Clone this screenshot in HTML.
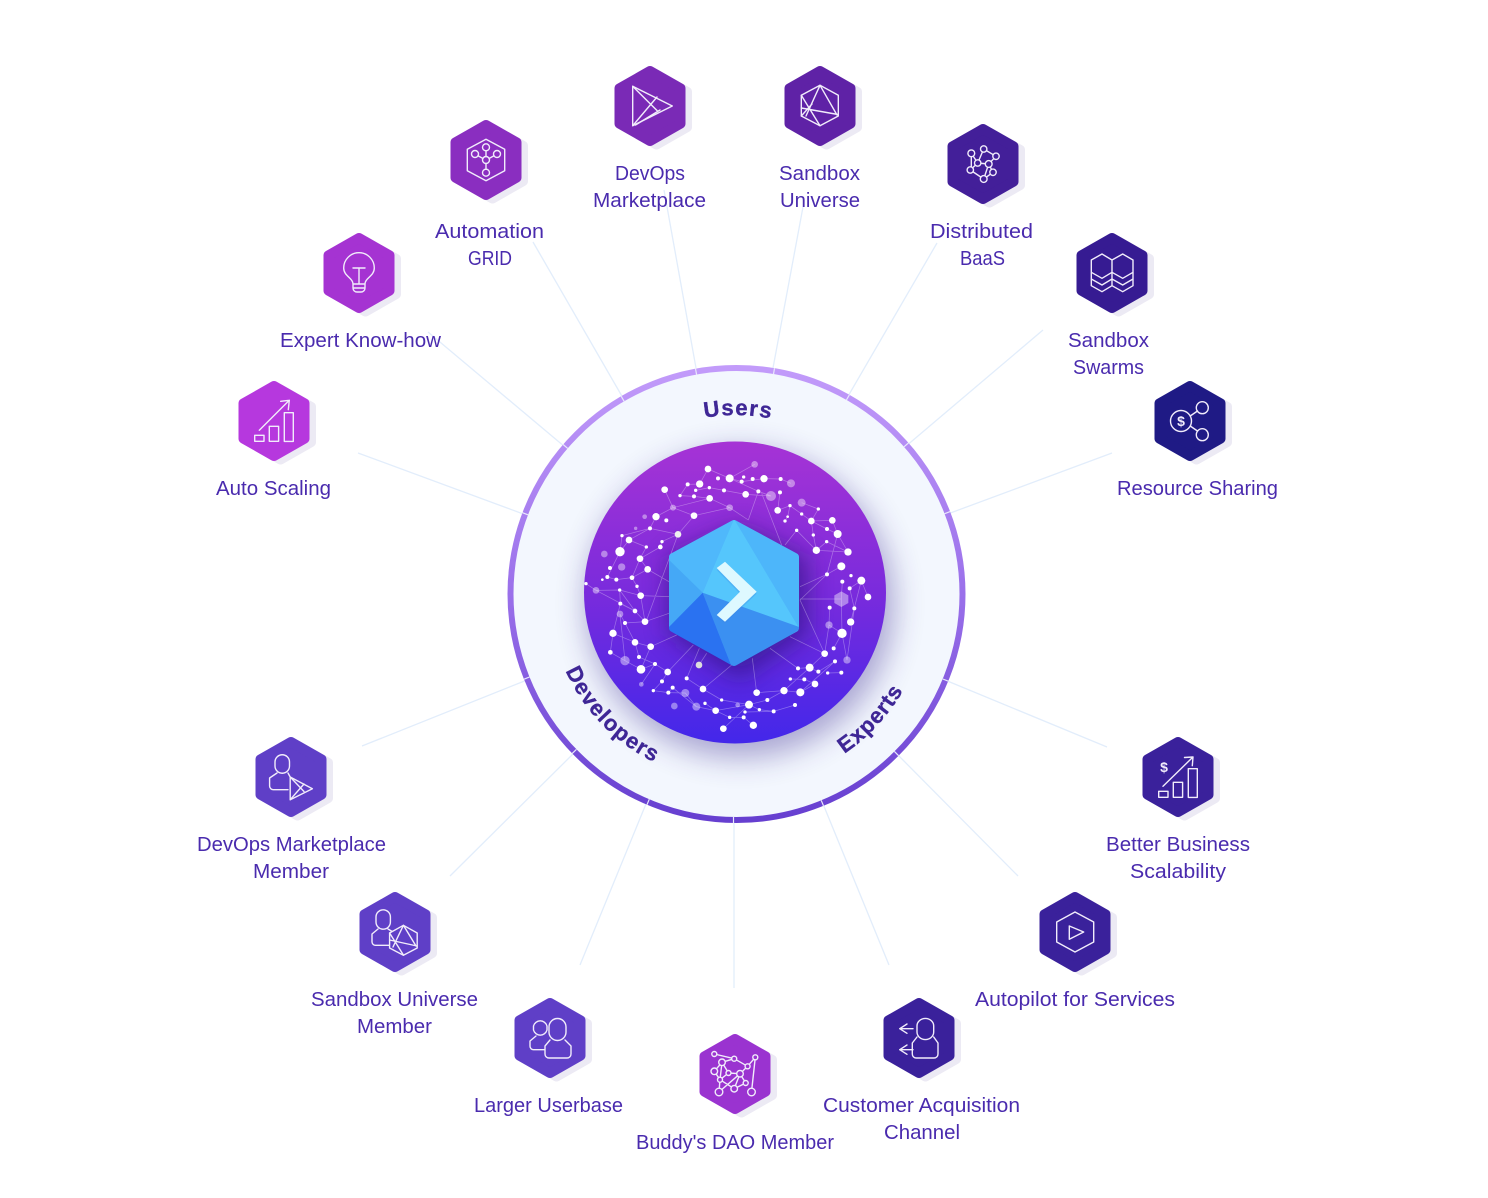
<!DOCTYPE html>
<html><head><meta charset="utf-8"><style>
html,body{margin:0;padding:0;background:#fff}
svg{display:block}
.l{font-family:"Liberation Sans",sans-serif;font-size:20px;fill:#4a2bae}
.r{font-family:"Liberation Sans",sans-serif;font-weight:bold;fill:#3f2796;font-size:22px;stroke:#3f2796;stroke-width:.35}
.c{stroke:#e2edfb;stroke-width:1.3;fill:none}
.i{fill:none;stroke:#f1ecfb;stroke-width:1.4;stroke-linejoin:round;stroke-linecap:round}
.w{fill:#fff}
.f{fill:#fff;opacity:.42}
</style></head><body>
<svg xmlns="http://www.w3.org/2000/svg" width="1488" height="1198" viewBox="0 0 1488 1198">
<defs>
<polygon id="hx" points="0,-35 30.5,-17.6 30.5,17.6 0,35 -30.5,17.6 -30.5,-17.6" stroke-width="10" stroke-linejoin="round"/>
<linearGradient id="rg" x1="0" y1="0" x2="0" y2="1"><stop offset="0" stop-color="#c29bfa"/><stop offset=".5" stop-color="#9a70ea"/><stop offset="1" stop-color="#663fd0"/></linearGradient>
<linearGradient id="dg" x1="0" y1="0" x2="0" y2="1"><stop offset="0" stop-color="#a633d5"/><stop offset=".5" stop-color="#7a2bdc"/><stop offset="1" stop-color="#4327ea"/></linearGradient>
<filter id="ds" x="-30%" y="-30%" width="160%" height="160%"><feGaussianBlur stdDeviation="15"/></filter>
<filter id="hs" x="-30%" y="-30%" width="160%" height="160%"><feGaussianBlur stdDeviation="12"/></filter>
<path id="pt" d="M557 594 A179 179 0 0 1 915 594"/>
<path id="pb" d="M549 594 A187 187 0 0 0 923 594"/>
<path id="pe" d="M543 594 A193 193 0 0 0 929 594"/>
<clipPath id="dc"><circle cx="735" cy="592.5" r="151"/></clipPath>
<mask id="hm" maskUnits="userSpaceOnUse" x="0" y="0" width="150" height="170"><polygon points="74,14 135,47 135,118 74,152 13,118 13,47" fill="#fff" stroke="#fff" stroke-width="8" stroke-linejoin="round"/></mask>
</defs>

<!-- connectors -->
<g class="c">
<line x1="358" y1="453" x2="526" y2="515"/>
<line x1="428" y1="332" x2="565" y2="447"/>
<line x1="533" y1="242" x2="623" y2="398"/>
<line x1="664" y1="190" x2="696" y2="368"/>
<line x1="803" y1="207" x2="773" y2="368"/>
<line x1="937" y1="243" x2="847" y2="398"/>
<line x1="1043" y1="330" x2="905" y2="447"/>
<line x1="1112" y1="453" x2="945" y2="515"/>
<line x1="1107" y1="747" x2="945" y2="680"/>
<line x1="1018" y1="876" x2="895" y2="752"/>
<line x1="889" y1="965" x2="821" y2="799"/>
<line x1="734" y1="988" x2="734" y2="823"/>
<line x1="580" y1="965" x2="648" y2="799"/>
<line x1="450" y1="876" x2="575" y2="752"/>
<line x1="362" y1="746" x2="527" y2="680"/>
</g>

<!-- ring -->
<circle cx="736.500" cy="594" r="226" fill="#f3f7fe" stroke="url(#rg)" stroke-width="6"/>
<g stroke="#e9e9fb" stroke-width="1.200">
<line x1="696.600" y1="374.600" x2="695.500" y2="368.700"/>
<line x1="773.500" y1="374.100" x2="774.500" y2="368.200"/>
<line x1="846.400" y1="400" x2="849.400" y2="394.800"/>
<line x1="904" y1="446.800" x2="908.500" y2="442.900"/>
<line x1="944.600" y1="513.700" x2="950.200" y2="511.600"/>
<line x1="942.800" y1="679" x2="948.300" y2="681.200"/>
<line x1="894.400" y1="751.400" x2="898.600" y2="755.700"/>
<line x1="821.200" y1="800.300" x2="823.500" y2="805.800"/>
<line x1="733.500" y1="817" x2="733.500" y2="823"/>
<line x1="649.300" y1="799.200" x2="647" y2="804.700"/>
<line x1="576.400" y1="749.400" x2="572.100" y2="753.600"/>
<line x1="529.500" y1="677" x2="524" y2="679.200"/>
<line x1="528" y1="514.800" x2="522.400" y2="512.700"/>
<line x1="567.700" y1="448.400" x2="563.100" y2="444.500"/>
<line x1="624.100" y1="401.300" x2="621.100" y2="396.100"/>
</g>

<!-- ring labels -->
<text class="r" letter-spacing="1.300" text-anchor="middle"><textPath href="#pt" startOffset="50.400%">Users</textPath></text>
<text class="r" letter-spacing="1.200" text-anchor="middle"><textPath href="#pb" startOffset="24.600%">Developers</textPath></text>
<text class="r" letter-spacing="1" text-anchor="middle"><textPath href="#pe" startOffset="76.200%">Experts</textPath></text>

<!-- disc -->
<circle cx="740" cy="604" r="154" fill="#3a2a90" opacity=".4" filter="url(#ds)"/>
<circle cx="735" cy="592.500" r="151" fill="url(#dg)"/>
<polygon points="740,526 808,558 808,634 740,680 668,634 668,558" fill="#2b1478" opacity=".6" filter="url(#hs)" clip-path="url(#dc)"/>

<!-- network -->
<g transform="translate(500 360) scale(.33333)">
<path fill="none" stroke="#fff" stroke-opacity=".32" stroke-width="2.200" d="M624 327L689 355L764 313M624 327L599 372L563 373L540 407L582 409L629 415L689 443L582 467L534 523L450 505L387 540L360 575L366 527L450 505L468 470L519 443L629 415M494 389L519 443L582 467M587 391L628 383L672 391L737 403L813 408L775 394L689 355L725 365L792 356L842 357L873 370M737 403L672 391M775 394L745 480M785 400L845 555M833 451L870 437L863 470L855 483M870 437L905 462L934 483L955 447L905 428M934 483L940 525L949 571L890 511L855 555M934 483L997 481L1013 522L981 507L934 483M1013 522L1044 576L980 545L949 571L1044 576M1013 522L981 643L900 720M1024 619L981 643L900 680M1084 662L1049 685L1063 745L1052 786L1084 662L1104 711M1027 665L1024 717L1026 820L1041 900M1024 717L900 717M1063 745L1041 900L1026 820L1001 865M989 743L987 795L974 881L900 720M987 795L1026 820M974 881L929 923L894 925L810 865M974 881L870 830M1005 904L955 935L929 923L852 992L770 998M1005 904L901 997L852 992L802 1020L747 1034L670 1106M983 939L1024 938M913 958L945 972L901 997M871 957L913 958M885 1035L821 1054L778 1049L747 1034L647 1052L589 1040L556 999L505 998L460 992L486 964L503 936L580 855M560 955L598 865M560 955L609 987L695 915M609 987L665 1020L747 1034M757 895L770 998M505 998L518 983L589 1040M615 1030L647 1052L689 1072L731 1072L760 1096M735 1056L821 1054M424 973L465 912L423 928L375 902L331 877L339 820L405 847L452 860L530 825M417 891L465 912L503 936M417 891L405 847L375 789L435 785L405 753L361 731L359 690L422 707L507 710M361 731L339 820M375 789L360 762L375 902M405 753L359 690L288 691L405 753M422 707L411 679L396 653L420 596L443 628L507 665M396 653L349 659L322 651L360 575M420 596L439 561L387 540M443 628L396 653M534 523L440 780M486 545L481 561L420 596M534 523L485 545M507 760L435 785M435 785L422 707M452 860L423 928M597 915L620 880M689 443L745 480M840 397L833 451M855 555L890 511M258 671L288 691"/>
<g class="f">
<circle cx="764" cy="313" r="10"/><circle cx="873" cy="370" r="12"/><circle cx="813" cy="408" r="15"/><circle cx="905" cy="428" r="12"/><circle cx="519" cy="443" r="9"/><circle cx="689" cy="443" r="10"/><circle cx="434" cy="470" r="7"/><circle cx="407" cy="505" r="5"/><circle cx="313" cy="582" r="10"/><circle cx="365" cy="621" r="11"/><circle cx="288" cy="691" r="10"/><polygon points="1024,694 1045,706 1045,729 1024,741 1003,729 1003,706"/><circle cx="360" cy="762" r="10"/><circle cx="987" cy="795" r="11"/><circle cx="375" cy="902" r="14"/><circle cx="1041" cy="900" r="11"/><circle cx="424" cy="973" r="7"/><circle cx="556" cy="999" r="12"/><circle cx="713" cy="1035" r="7"/><circle cx="523" cy="1038" r="10"/><circle cx="589" cy="1040" r="12"/>
</g>
<g class="w">
<circle cx="624" cy="327" r="10"/><circle cx="654" cy="355" r="6"/><circle cx="689" cy="355" r="12"/><circle cx="731" cy="351" r="5"/><circle cx="725" cy="365" r="6"/><circle cx="758" cy="357" r="6"/><circle cx="792" cy="356" r="11"/><circle cx="842" cy="357" r="6"/><circle cx="563" cy="373" r="6"/><circle cx="599" cy="372" r="11"/><circle cx="628" cy="383" r="5"/><circle cx="587" cy="391" r="5"/><circle cx="672" cy="391" r="6"/><circle cx="737" cy="403" r="10"/><circle cx="775" cy="394" r="6"/><circle cx="840" cy="397" r="6"/><circle cx="494" cy="389" r="10"/><circle cx="540" cy="407" r="5"/><circle cx="582" cy="409" r="6"/><circle cx="629" cy="415" r="10"/><circle cx="870" cy="437" r="5"/><circle cx="955" cy="447" r="5"/><circle cx="833" cy="451" r="10"/><circle cx="905" cy="462" r="5"/><circle cx="468" cy="470" r="11"/><circle cx="582" cy="467" r="10"/><circle cx="499" cy="481" r="6"/><circle cx="863" cy="470" r="4"/><circle cx="855" cy="483" r="5"/><circle cx="934" cy="483" r="10"/><circle cx="997" cy="481" r="10"/><circle cx="450" cy="505" r="6"/><circle cx="890" cy="511" r="5"/><circle cx="981" cy="507" r="6"/><circle cx="534" cy="523" r="10" fill="#eee"/><circle cx="366" cy="527" r="5"/><circle cx="387" cy="540" r="10"/><circle cx="940" cy="525" r="5"/><circle cx="1013" cy="522" r="12"/><circle cx="486" cy="545" r="5"/><circle cx="439" cy="561" r="5"/><circle cx="481" cy="561" r="7"/><circle cx="980" cy="545" r="5"/><circle cx="360" cy="575" r="14"/><circle cx="949" cy="571" r="11"/><circle cx="1044" cy="576" r="11"/><circle cx="420" cy="596" r="10"/><circle cx="1024" cy="619" r="12"/><circle cx="330" cy="624" r="6"/><circle cx="443" cy="628" r="10"/><circle cx="981" cy="643" r="6"/><circle cx="1053" cy="647" r="5"/><circle cx="322" cy="651" r="6"/><circle cx="307" cy="659" r="4"/><circle cx="349" cy="659" r="6"/><circle cx="396" cy="653" r="7"/><circle cx="1084" cy="662" r="12"/><circle cx="1027" cy="665" r="6"/><circle cx="258" cy="671" r="5"/><circle cx="411" cy="679" r="5"/><circle cx="1049" cy="685" r="6"/><circle cx="359" cy="690" r="5"/><circle cx="422" cy="707" r="10"/><circle cx="1104" cy="711" r="10"/><circle cx="361" cy="731" r="6"/><circle cx="989" cy="743" r="6"/><circle cx="1063" cy="745" r="6"/><circle cx="405" cy="753" r="7"/><circle cx="435" cy="785" r="10"/><circle cx="375" cy="789" r="6"/><circle cx="1052" cy="786" r="11"/><circle cx="339" cy="820" r="11"/><circle cx="1026" cy="820" r="14"/><circle cx="405" cy="847" r="10"/><circle cx="452" cy="860" r="10"/><circle cx="1001" cy="865" r="6"/><circle cx="331" cy="877" r="7"/><circle cx="974" cy="881" r="10"/><circle cx="417" cy="891" r="6"/><circle cx="1005" cy="904" r="6"/><circle cx="465" cy="912" r="6"/><circle cx="597" cy="915" r="10" fill="#ddd"/><circle cx="929" cy="923" r="12"/><circle cx="894" cy="925" r="6"/><circle cx="423" cy="928" r="13"/><circle cx="955" cy="935" r="6"/><circle cx="983" cy="939" r="5"/><circle cx="1024" cy="938" r="6"/><circle cx="503" cy="936" r="10"/><circle cx="871" cy="957" r="5"/><circle cx="913" cy="958" r="6"/><circle cx="560" cy="955" r="6"/><circle cx="945" cy="972" r="10"/><circle cx="486" cy="964" r="6"/><circle cx="518" cy="983" r="6"/><circle cx="609" cy="987" r="10"/><circle cx="852" cy="992" r="11"/><circle cx="901" cy="997" r="12"/><circle cx="770" cy="998" r="10"/><circle cx="460" cy="992" r="5"/><circle cx="505" cy="998" r="6"/><circle cx="802" cy="1020" r="6"/><circle cx="665" cy="1020" r="5"/><circle cx="615" cy="1030" r="5"/><circle cx="747" cy="1034" r="12"/><circle cx="885" cy="1035" r="6"/><circle cx="778" cy="1049" r="5"/><circle cx="647" cy="1052" r="10"/><circle cx="735" cy="1056" r="5"/><circle cx="821" cy="1054" r="6"/><circle cx="689" cy="1072" r="5"/><circle cx="731" cy="1072" r="6"/><circle cx="760" cy="1096" r="11"/><circle cx="670" cy="1106" r="10"/>
</g>
</g>

<!-- central hexagon -->
<g transform="translate(660 510)">
<g mask="url(#hm)">
<rect x="0" y="0" width="150" height="170" fill="#4db6fa"/>
<polygon points="74,9 42.700,82.700 139,118" fill="#55c6fc"/>
<polygon points="74,9 5,46 42.700,82.700" fill="#4fb8fb"/>
<polygon points="5,46 42.700,82.700 5,121" fill="#45a8f6"/>
<polygon points="42.700,82.700 142,118 73,160" fill="#3b90f1"/>
<polygon points="42.700,82.700 5,121 73,160" fill="#2a72f1"/>
</g>
<polygon points="56.700,60 65,53.700 96.700,83.700 65,113.700 56.700,107 80,83.700" fill="#3a88e6" opacity=".3"/>
<polygon points="56.700,58 65,51.700 96.700,81.700 65,111.700 56.700,105 80,81.700" fill="#def9ff"/>
</g>

<!-- hex nodes -->
<g id="nodes">
<g transform="translate(274 421)"><use href="#hx" x="6.5" y="3.5" fill="#eceaf4" stroke="#eceaf4"/><use href="#hx" fill="#b638de" stroke="#b638de"/><g class="i"><rect x="-19.3" y="14.3" width="9.3" height="6"/><rect x="-4.7" y="5.3" width="9.3" height="15"/><rect x="10.3" y="-8.3" width="9" height="28.7"/><path d="M-14.7 9.3L15.3-20.7M6.7-19.7L15.3-20.7L14.3-11.3"/></g></g>

<g transform="translate(359 273)"><use href="#hx" x="6.5" y="3.5" fill="#eceaf4" stroke="#eceaf4"/><use href="#hx" fill="#a533d2" stroke="#a533d2"/><g class="i"><path d="M-6 11C-6 5-15.3 3-15.3-5A15.3 15.3 0 0 1 15.3-5C15.3 3 6 5 6 11ZM-6-5H6M0-5V11M-6 11V15A4 4 0 0 0-2 19H2A4 4 0 0 0 6 15V11M-6 15H6"/></g></g>

<g transform="translate(486 160)"><use href="#hx" x="6.5" y="3.5" fill="#eceaf4" stroke="#eceaf4"/><use href="#hx" fill="#8a2ec0" stroke="#8a2ec0"/><g class="i"><polygon points="0,-20.7 18.7,-10.7 18.7,10.7 0,20.7 -18.7,10.7 -18.7,-10.7"/><circle cy="-12.7" r="3.5"/><circle cx="-11" cy="-6" r="3.5"/><circle cx="11" cy="-6" r="3.5"/><circle r="3.5"/><circle cy="12.7" r="3.5"/><path d="M0-9.2V-3.5M-8-4.2L-3-1.5M8-4.2L3-1.5M0 3.5V9.2"/></g></g>

<g transform="translate(650 106)"><use href="#hx" x="6.5" y="3.5" fill="#eceaf4" stroke="#eceaf4"/><use href="#hx" fill="#7a2ab6" stroke="#7a2ab6"/><g class="i"><polygon points="-17.3,-19.7 22.3,0 -17.3,19.7"/><path d="M-17.3-19.7L7 4.5M-17.3 19.7L7-9M-14.5 19L10 4"/></g></g>

<g transform="translate(820 106)"><use href="#hx" x="6.5" y="3.5" fill="#eceaf4" stroke="#eceaf4"/><use href="#hx" fill="#5f22a6" stroke="#5f22a6"/><g class="i"><polygon points="0,-20.7 18.3,-10.7 18.3,10 0,19.7 -18.7,10 -18.7,-10.7"/><path d="M0-20.7L-14 10M0-20.7L17 9M-18.7-10.7L0 19.7M-18.7 2L18 8.5M-18.7 10L-8-2"/></g></g>

<g transform="translate(983 164)"><use href="#hx" x="6.5" y="3.5" fill="#eceaf4" stroke="#eceaf4"/><use href="#hx" fill="#431f99" stroke="#431f99"/><g class="i"><path d="M-11.7-10.7L-5.3-1L-12.7 6L.7 15L10 8.3L5.700 0L-5.3-1L.7-15L13-7.7L5.700 0M-11.7-10.7V6M5.700 0L.7 15"/><g fill="#431f99"><circle cx="-11.7" cy="-10.7" r="3.4"/><circle cx=".7" cy="-15" r="3.2"/><circle cx="13" cy="-7.700" r="3.2"/><circle cx="-5.3" cy="-1" r="3.2"/><circle cx="5.700" cy="0" r="3.400"/><circle cx="-12.700" cy="6" r="3.200"/><circle cx="10" cy="8.300" r="3.200"/><circle cx=".7" cy="15" r="3.400"/></g></g></g>

<g transform="translate(1112 273)"><use href="#hx" x="6.5" y="3.5" fill="#eceaf4" stroke="#eceaf4"/><use href="#hx" fill="#361b92" stroke="#361b92"/><g class="i"><path d="M-20.700-13L-10-19L0-13L10.700-19L21-13V12.700L10.700 18.700L0 12.700L-10 18.700L-20.700 12.700ZM0-13V12.700M-20.700-.7L-10 5.300L0-.7L10.700 5.300L21-.7M-20.700 6L-10 12L0 6L10.700 12L21 6"/></g></g>

<g transform="translate(1190 421)"><use href="#hx" x="6.5" y="3.5" fill="#eceaf4" stroke="#eceaf4"/><use href="#hx" fill="#1f1a85" stroke="#1f1a85"/><g class="i"><circle cx="-9" r="10.500"/><circle cx="12.300" cy="-13.300" r="6"/><circle cx="12.300" cy="13.700" r="6"/><path d="M.200-5L7.500-10M.200 5L7.500 10"/></g><text x="-9" y="5" text-anchor="middle" font-family="Liberation Sans,sans-serif" font-weight="bold" font-size="14" fill="#f1ecfb">$</text></g>

<g transform="translate(1178 777)"><use href="#hx" x="6.5" y="3.5" fill="#eceaf4" stroke="#eceaf4"/><use href="#hx" fill="#3a219b" stroke="#3a219b"/><g class="i"><rect x="-19.300" y="14.300" width="9.300" height="6"/><rect x="-4.700" y="5.300" width="9.300" height="15"/><rect x="10.300" y="-8.300" width="9" height="28.700"/><path d="M-15 9.300L15-20M6.500-19.500L15-20L14.300-11.300"/></g><text x="-14" y="-5" text-anchor="middle" font-family="Liberation Sans,sans-serif" font-weight="bold" font-size="14" fill="#f1ecfb">$</text></g>

<g transform="translate(1075 932)"><use href="#hx" x="6.5" y="3.5" fill="#eceaf4" stroke="#eceaf4"/><use href="#hx" fill="#3a219b" stroke="#3a219b"/><g class="i"><polygon points="0,-20 18.700,-10 18.700,10 0,20 -18.300,10 -18.300,-10"/><polygon points="-5.700,-6 8.700,0 -5.700,7.300"/></g></g>

<g transform="translate(919 1038)"><use href="#hx" x="6.5" y="3.5" fill="#eceaf4" stroke="#eceaf4"/><use href="#hx" fill="#3a219b" stroke="#3a219b"/><g class="i"><path d="M-2-12A8.300 7.500 0 0 1 14.700-12V-6A8.300 7.500 0 0 1-2-6ZM-2-1L-6.700 5V16A4 4 0 0 0-2.700 20H15A4 4 0 0 0 19 16V5L14.700-1M-6-9.300H-19.300M-12-14L-19.300-9.300L-12-4.700M-6 11.700H-19.300M-12 7L-19.300 11.700L-12 16.300"/></g></g>

<g transform="translate(735 1074)"><use href="#hx" x="6.5" y="3.5" fill="#eceaf4" stroke="#eceaf4"/><use href="#hx" fill="#9a33d0" stroke="#9a33d0"/><g class="i"><path d="M-20.700-20L-.8-15.300L12.600-7.700L20.300-16.700L16.500 18M-.8-15.300L-13-11.700L-6.500-1L5-.3L12.600-7.700M-13-11.700L-20.700-2.700L-15 5.700L-.8 14.700L10.700 9L5-.3L-.8 14.700M-15 5.700L-16 18M-16 18L5-.3M-6.500-1L-15 5.700M-13-11.700L-15 5.700M10.700 9L-.8 14.700"/><g fill="#9a33d0"><circle cx="-20.700" cy="-20" r="2.500"/><circle cx="-.8" cy="-15.300" r="2.500"/><circle cx="20.300" cy="-16.700" r="2.500"/><circle cx="-13" cy="-11.700" r="3.300"/><circle cx="12.600" cy="-7.700" r="2.500"/><circle cx="-20.700" cy="-2.700" r="3.300"/><circle cx="-6.500" cy="-1" r="2.500"/><circle cx="5" cy="-.3" r="3.300"/><circle cx="-15" cy="5.700" r="2.500"/><circle cx="10.700" cy="9" r="2.500"/><circle cx="-.8" cy="14.700" r="3.300"/><circle cx="-16" cy="18" r="3.800"/><circle cx="16.500" cy="18" r="3.800"/></g></g></g>

<g transform="translate(550 1038)"><use href="#hx" x="6.5" y="3.5" fill="#eceaf4" stroke="#eceaf4"/><use href="#hx" fill="#5f3fc7" stroke="#5f3fc7"/><g class="i"><path d="M-16.500-12A7 7 0 0 1-3-12V-8A7 7 0 0 1-16.500-8ZM-14-2L-20 3V8A3.500 3.500 0 0 0-16.500 11.700H-5M-1-11A8.500 8.500 0 0 1 16-11V-6A8.500 8.500 0 0 1-1-6ZM0 2L-5 8V16A4 4 0 0 0-1 20H17A4 4 0 0 0 21 16V8L15 2"/></g></g>

<g transform="translate(395 932)"><use href="#hx" x="6.5" y="3.5" fill="#eceaf4" stroke="#eceaf4"/><use href="#hx" fill="#5f3fc7" stroke="#5f3fc7"/><g class="i"><path d="M-19-15A7.200 7.200 0 0 1-4.600-15V-10A7.200 7.200 0 0 1-19-10ZM-17-3L-23 2V10A3.500 3.500 0 0 0-19.500 13.300H-6M-7-3L-2 0"/><polygon points="8.400,-6.700 22.200,1 22.200,16 8.400,23.300 -5.400,16 -5.400,1" fill="#5f3fc7"/><path d="M8.400-6.700L-2 15M8.400-6.700L21 14M-5.400 1L8.400 23M-5.400 8L22 14"/></g></g>

<g transform="translate(291 777)"><use href="#hx" x="6.5" y="3.5" fill="#eceaf4" stroke="#eceaf4"/><use href="#hx" fill="#5f3fc7" stroke="#5f3fc7"/><g class="i"><path d="M-16-15A7.200 7.200 0 0 1-1.500-15V-11A7.200 7.200 0 0 1-16-11ZM-14-4L-21.400 1V9A3.700 3.700 0 0 0-17.700 12.700H-3M-3-4L-.8 0"/><polygon points="-.8,0 21.400,11.700 -.8,22.700"/><path d="M-.8 0L13 14.500M-.8 22.700L13 7"/></g></g>
</g>

<!-- labels -->
<g class="l">
<text x="615" y="180" textLength="70" lengthAdjust="spacingAndGlyphs">DevOps</text>
<text x="593" y="207" textLength="113" lengthAdjust="spacingAndGlyphs">Marketplace</text>
<text x="779" y="180" textLength="81" lengthAdjust="spacingAndGlyphs">Sandbox</text>
<text x="780" y="207" textLength="80" lengthAdjust="spacingAndGlyphs">Universe</text>
<text x="435" y="238" textLength="109" lengthAdjust="spacingAndGlyphs">Automation</text>
<text x="468" y="265" textLength="44" lengthAdjust="spacingAndGlyphs">GRID</text>
<text x="930" y="238" textLength="103" lengthAdjust="spacingAndGlyphs">Distributed</text>
<text x="960" y="265" textLength="45" lengthAdjust="spacingAndGlyphs">BaaS</text>
<text x="280" y="347" textLength="161" lengthAdjust="spacingAndGlyphs">Expert Know-how</text>
<text x="1068" y="347" textLength="81" lengthAdjust="spacingAndGlyphs">Sandbox</text>
<text x="1073" y="374" textLength="71" lengthAdjust="spacingAndGlyphs">Swarms</text>
<text x="216" y="495" textLength="115" lengthAdjust="spacingAndGlyphs">Auto Scaling</text>
<text x="1117" y="495" textLength="161" lengthAdjust="spacingAndGlyphs">Resource Sharing</text>
<text x="197" y="851" textLength="189" lengthAdjust="spacingAndGlyphs">DevOps Marketplace</text>
<text x="253" y="878" textLength="76" lengthAdjust="spacingAndGlyphs">Member</text>
<text x="1106" y="851" textLength="144" lengthAdjust="spacingAndGlyphs">Better Business</text>
<text x="1130" y="878" textLength="96" lengthAdjust="spacingAndGlyphs">Scalability</text>
<text x="311" y="1006" textLength="167" lengthAdjust="spacingAndGlyphs">Sandbox Universe</text>
<text x="357" y="1033" textLength="75" lengthAdjust="spacingAndGlyphs">Member</text>
<text x="975" y="1006" textLength="200" lengthAdjust="spacingAndGlyphs">Autopilot for Services</text>
<text x="474" y="1112" textLength="149" lengthAdjust="spacingAndGlyphs">Larger Userbase</text>
<text x="823" y="1112" textLength="197" lengthAdjust="spacingAndGlyphs">Customer Acquisition</text>
<text x="884" y="1139" textLength="76" lengthAdjust="spacingAndGlyphs">Channel</text>
<text x="636" y="1149" textLength="198" lengthAdjust="spacingAndGlyphs">Buddy's DAO Member</text>
</g>
</svg>
</body></html>
